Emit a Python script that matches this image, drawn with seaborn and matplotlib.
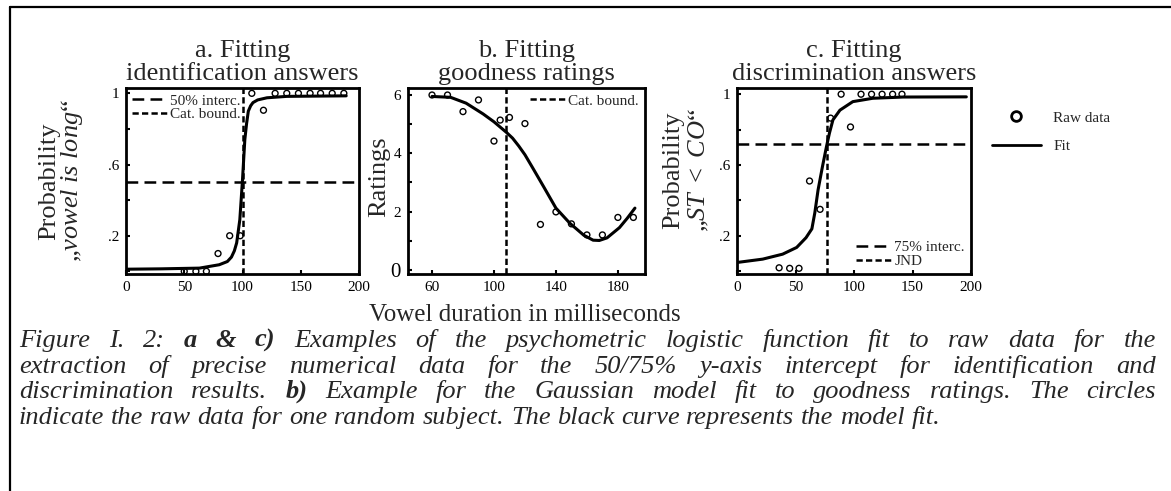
import matplotlib
matplotlib.use("Agg")
import matplotlib.pyplot as plt
from matplotlib.lines import Line2D
import seaborn as sns

# raw data and fitted curves
dur_a = [50, 60, 69, 79, 89, 98, 108, 118, 128, 138, 148, 158, 167, 177, 187]
ident_a = [0, 0, 0, 0.10, 0.20, 0.20, 1.0, 0.905, 1, 1, 1, 1, 1, 1, 1]
fit_a_x = [1, 30, 63, 80, 87, 90.5, 93, 95, 97.7, 100, 102, 103.5, 105, 107, 109, 113, 121, 138, 189]
fit_a_y = [0.012, 0.014, 0.018, 0.037, 0.055, 0.08, 0.115, 0.16, 0.29, 0.515, 0.74, 0.83, 0.90,
           0.93, 0.948, 0.963, 0.975, 0.983, 0.986]
bound_a = 100
interc_a = 0.5

dur_b = [60, 70, 80, 90, 100, 104, 110, 120, 130, 140, 150, 160, 170, 180, 190]
rating_b = [6.0, 6.0, 5.43, 5.83, 4.42, 5.14, 5.23, 5.02, 1.56, 1.99, 1.58, 1.2, 1.2, 1.8, 1.8]
fit_b_x = [60, 72, 82, 93, 100, 104, 108, 112, 116, 120, 125, 132, 140, 149, 158, 164, 168, 173,
           181, 186, 191]
fit_b_y = [5.95, 5.92, 5.72, 5.35, 5.08, 4.9, 4.72, 4.52, 4.25, 3.95, 3.5, 2.86, 2.12, 1.6, 1.19,
           1.02, 1.01, 1.1, 1.45, 1.77, 2.12]
bound_b = 108

dur_c = [36, 45, 53, 62, 71, 80, 89, 97, 106, 115, 124, 133, 141]
disc_c = [0.02, 0.017, 0.017, 0.51, 0.35, 0.865, 1.0, 0.815, 1, 1, 1, 1, 1]
fit_c_x = [0, 22, 39, 51, 59, 64, 66.5, 69.3, 73, 76.5, 79, 82, 88, 99, 116, 142, 196]
fit_c_y = [0.05, 0.069, 0.097, 0.135, 0.19, 0.24, 0.33, 0.46, 0.59, 0.705, 0.78, 0.855, 0.91,
           0.958, 0.977, 0.984, 0.985]
jnd_c = 77
interc_c = 0.72

prob_ticks = [0, 0.2, 0.4, 0.6, 0.8, 1]
prob_labels = ['', '.2', '', '.6', '', '1']
ms_ticks = [0, 50, 100, 150, 200]
rating_ticks = [0, 1, 2, 3, 4, 5, 6]
rating_labels = ['0', '', '2', '', '4', '', '6']
dur_b_ticks = [60, 100, 140, 180]

caption = [
    "Figure I. 2: **a **& **c) Examples of the psychometric logistic function fit to raw data for the",
    "extraction of precise numerical data for the 50/75% y-axis intercept for identification and",
    "discrimination results. **b) Example for the Gaussian model fit to goodness ratings. The circles",
    "indicate the raw data for one random subject. The black curve represents the model fit.",
]

sns.set_style("ticks")
plt.rcParams['font.family'] = ['Liberation Serif', 'DejaVu Serif']
plt.rcParams['mathtext.fontset'] = 'custom'
plt.rcParams['mathtext.rm'] = 'Liberation Serif'
plt.rcParams['mathtext.it'] = 'Liberation Serif:italic'

W, H = 1171, 491
fig = plt.figure(figsize=(W / 100, H / 100), dpi=100)


def px_axes(left, right, top, bottom):
    return fig.add_axes([left / W, 1 - bottom / H, (right - left) / W, (bottom - top) / H])


def style_axes(ax):
    for s in ax.spines.values():
        s.set_linewidth(2.0)
        s.set_color('black')
    ax.tick_params(direction='in', length=3, width=1.5, labelsize=11, pad=5, colors='black')


LONG = (4.7, 2.5)
SHORT = (2.5, 1.3)
pt_kw = dict(marker='o', s=18, facecolor='none', edgecolor='black', linewidth=1.0, zorder=4)

# panel a
ax_a = px_axes(126, 359, 88, 274)
ax_a.axhline(interc_a, color='k', lw=1.8, dashes=LONG, label='50% interc.')
ax_a.axvline(bound_a, color='k', lw=1.8, dashes=SHORT, label='Cat. bound.')
sns.lineplot(x=fit_a_x, y=fit_a_y, ax=ax_a, color='k', lw=2.2, sort=False)
sns.scatterplot(x=dur_a, y=ident_a, ax=ax_a, **pt_kw)
ax_a.set_xlim(0, 200)
ax_a.set_ylim(-0.015, 1.03)
ax_a.set_xticks(ms_ticks)
ax_a.set_yticks(prob_ticks)
ax_a.set_yticklabels(prob_labels)
ax_a.legend(loc='upper left', frameon=False, fontsize=11, handlelength=2.3, handletextpad=0.2,
            labelspacing=0.0, borderaxespad=0.15, borderpad=0.25)
ax_a.set_title("a. Fitting\nidentification answers", fontsize=19, linespacing=1.05, pad=6)

# panel b
ax_b = px_axes(408, 645, 88, 274)
ax_b.axvline(bound_b, color='k', lw=1.8, dashes=SHORT, label='Cat. bound.')
sns.lineplot(x=fit_b_x, y=fit_b_y, ax=ax_b, color='k', lw=2.2, sort=False)
sns.scatterplot(x=dur_b, y=rating_b, ax=ax_b, **pt_kw)
ax_b.set_xlim(44.5, 197.5)
ax_b.set_ylim(-0.14, 6.24)
ax_b.set_xticks(dur_b_ticks)
ax_b.set_yticks(rating_ticks)
ax_b.set_yticklabels(rating_labels)
ax_b.legend(loc='upper right', frameon=False, fontsize=11, handlelength=2.3, handletextpad=0.2,
            borderaxespad=0.15, borderpad=0.25)
ax_b.set_title("b. Fitting\ngoodness ratings", fontsize=19, linespacing=1.05, pad=6)

# panel c
ax_c = px_axes(737, 971, 88, 274)
ax_c.axhline(interc_c, color='k', lw=1.8, dashes=LONG, label='75% interc.')
ax_c.axvline(jnd_c, color='k', lw=1.8, dashes=SHORT, label='JND')
sns.lineplot(x=fit_c_x, y=fit_c_y, ax=ax_c, color='k', lw=2.2, sort=False)
sns.scatterplot(x=dur_c, y=disc_c, ax=ax_c, **pt_kw)
ax_c.set_xlim(0, 200)
ax_c.set_ylim(-0.015, 1.035)
ax_c.set_xticks(ms_ticks)
ax_c.set_yticks(prob_ticks)
ax_c.set_yticklabels(prob_labels)
ax_c.legend(loc='lower right', frameon=False, fontsize=11, handlelength=2.3, handletextpad=0.2,
            labelspacing=0.0, borderaxespad=0.15, borderpad=0.25)
ax_c.set_title("c. Fitting\ndiscrimination answers", fontsize=19, linespacing=1.05, pad=6)

for ax in (ax_a, ax_b, ax_c):
    style_axes(ax)
# the zero of the ratings axis is printed larger in the original
ax_b.get_yticklabels()[0].set_fontsize(15)

# y labels, two lines each
fig.text(49 / W, 1 - 181 / H, "Probability", rotation=90, ha='center', va='center', fontsize=19)
fig.text(72 / W, 1 - 181 / H, "\u201e$\\mathit{vowel\\ is\\ long}$\u201c", rotation=90,
         ha='center', va='center', fontsize=19)
fig.text(379 / W, 1 - 177 / H, "Ratings", rotation=90, ha='center', va='center', fontsize=19)
fig.text(673 / W, 1 - 170 / H, "Probability", rotation=90, ha='center', va='center', fontsize=19)
fig.text(699 / W, 1 - 170 / H, "\u201e$\\mathit{ST\\ <\\ CO}$\u201c", rotation=90,
         ha='center', va='center', fontsize=19)

fig.text(525 / W, 1 - 315 / H, "Vowel duration in milliseconds", ha='center', va='center', fontsize=18)

# shared legend on the right
handles = [Line2D([], [], marker='o', ls='none', mfc='none', mec='k', mew=2, ms=7),
           Line2D([], [], color='k', lw=2)]
fig.legend(handles, ['Raw data', 'Fit'], loc='center left', bbox_to_anchor=(992 / W, 1 - 132 / H),
           frameon=False, fontsize=11, handlelength=3.2, handletextpad=0.8, labelspacing=0.95,
           borderaxespad=0, borderpad=0)

# frame lines (top and left)
fig.add_artist(Line2D([10 / W, 10 / W], [0, 1 - 7 / H], transform=fig.transFigure, color='k', lw=1.6))
fig.add_artist(Line2D([10 / W, 1], [1 - 7 / H, 1 - 7 / H], transform=fig.transFigure, color='k', lw=1.6))

# justified caption, word by word on a shared baseline
renderer = fig.canvas.get_renderer()
cap_fs = 19
cap_left, cap_right = 19, 1156
cap_baselines = [347, 373, 398, 424]
for i, (line, row) in enumerate(zip(caption, cap_baselines)):
    texts = []
    for word in line.split(' '):
        bold = word.startswith('**')
        txt = word[2:] if bold else word
        texts.append(fig.text(0, 1 - row / H, txt, fontsize=cap_fs, style='italic',
                              weight='bold' if bold else 'normal', ha='left', va='baseline'))
    widths = [t.get_window_extent(renderer).width for t in texts]
    if i < len(caption) - 1:
        gap = (cap_right - cap_left - sum(widths)) / (len(texts) - 1)
    else:
        gap = 0.25 * cap_fs * 100 / 72
    x = cap_left
    for t, wd in zip(texts, widths):
        t.set_x(x / W)
        x += wd + gap

fig.savefig("out.png", dpi=100)
